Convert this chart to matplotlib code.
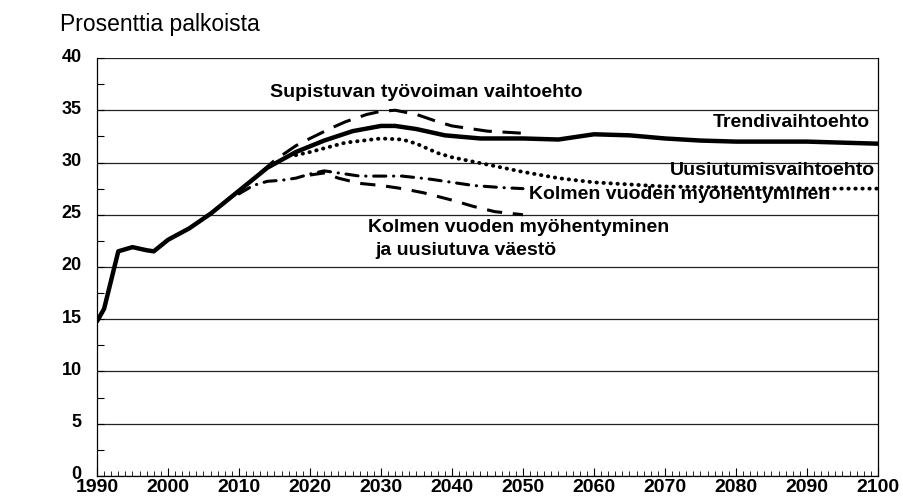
import numpy as np
import matplotlib
matplotlib.use("Agg")
import matplotlib.pyplot as plt
from matplotlib.ticker import MultipleLocator
from matplotlib.transforms import ScaledTranslation

plt.rcParams["font.family"] = ["Liberation Sans", "DejaVu Sans"]

# Trend scenario
trend_years = [1990, 1991, 1993, 1995, 1997, 1998, 2000, 2003, 2006, 2010, 2014,
               2018, 2022, 2026, 2030, 2032, 2035, 2039, 2044, 2050, 2055, 2060,
               2065, 2070, 2075, 2080, 2090, 2100]
trend_vals = [14.8, 16.0, 21.5, 21.9, 21.6, 21.5, 22.6, 23.7, 25.1, 27.3, 29.5,
              31.0, 32.1, 33.0, 33.5, 33.5, 33.2, 32.6, 32.3, 32.3, 32.2, 32.7,
              32.6, 32.3, 32.1, 32.0, 32.0, 31.8]

# Shrinking labour force scenario
sup_years = [2013, 2015, 2018, 2020, 2023, 2025, 2028, 2030, 2032, 2035, 2038,
             2040, 2045, 2050]
sup_vals = [29.0, 30.2, 31.6, 32.3, 33.3, 33.9, 34.6, 34.9, 35.0, 34.6, 33.9,
            33.5, 33.0, 32.8]

# Renewal scenario
uus_years = [2018, 2020, 2025, 2030, 2033, 2035, 2038, 2040, 2045, 2050, 2055,
             2060, 2065, 2070, 2080, 2090, 2100]
uus_vals = [30.7, 31.0, 31.9, 32.3, 32.2, 31.8, 30.9, 30.5, 29.8, 29.1, 28.5,
            28.1, 27.9, 27.7, 27.6, 27.5, 27.5]

# Three-year delay
kol_years = [2010, 2012, 2014, 2016, 2018, 2020, 2022, 2024, 2027, 2030, 2033,
             2037, 2040, 2043, 2047, 2050]
kol_vals = [27.0, 27.8, 28.2, 28.3, 28.5, 28.9, 29.2, 29.0, 28.7, 28.7, 28.7,
            28.4, 28.1, 27.8, 27.6, 27.5]

# Three-year delay and renewing population
kolu_years = [2020, 2022, 2024, 2027, 2030, 2033, 2036, 2040, 2043, 2046, 2050]
kolu_vals = [28.8, 29.0, 28.5, 28.0, 27.8, 27.5, 27.1, 26.4, 25.8, 25.3, 25.0]

fig = plt.figure(figsize=(9.04, 5.04), dpi=100)
ax = fig.add_axes([0.1073, 0.0556, 0.8639, 0.8293])

ax.plot(trend_years, trend_vals, color="black", lw=3.2, solid_capstyle="round")
ax.plot(sup_years, sup_vals, color="black", lw=2.2, linestyle=(0, (6, 3.5)))
ax.plot(uus_years, uus_vals, color="black", lw=2.8, linestyle=(0, (0.1, 1.7)),
        dash_capstyle="round")
ax.plot(kol_years, kol_vals, color="black", lw=2.2,
        linestyle=(0, (4, 2.5, 0.1, 2.5)), dash_capstyle="round")
ax.plot(kolu_years, kolu_vals, color="black", lw=2.2, linestyle=(0, (5, 3.5)))

ax.set_xlim(1990, 2100)
ax.set_ylim(0, 40)
ax.yaxis.set_major_locator(MultipleLocator(5))
ax.yaxis.set_minor_locator(MultipleLocator(2.5))
ax.xaxis.set_major_locator(MultipleLocator(10))
ax.xaxis.set_minor_locator(MultipleLocator(1))
ax.grid(axis="y", which="major", color="#222222", lw=0.9)
ax.set_axisbelow(True)

ax.spines["top"].set_visible(False)
for side in ["left", "right", "bottom"]:
    ax.spines[side].set_linewidth(0.9)

ax.tick_params(axis="y", which="both", direction="in", length=5, width=0.8,
               labelsize=13, pad=11)
ax.tick_params(axis="x", which="major", direction="in", length=6, width=0.8,
               labelsize=14, pad=2)
ax.tick_params(axis="x", which="minor", direction="in", length=3.5, width=0.6)
for lab in ax.get_yticklabels() + ax.get_xticklabels():
    lab.set_fontweight("bold")

fig.text(60 / 904, 1 - 25 / 504, "Prosenttia palkoista", fontsize=16.5,
         va="center", ha="left")

lab_kw = dict(fontsize=14, fontweight="bold", color="black")
ax.text(2014.4, 36.7, "Supistuvan työvoiman vaihtoehto", ha="left", va="center", **lab_kw)
ax.text(2098.9, 33.8, "Trendivaihtoehto", ha="right", va="center", **lab_kw)
ax.text(2099.6, 29.2, "Uusiutumisvaihtoehto", ha="right", va="center", **lab_kw)
ax.text(2050.8, 26.9, "Kolmen vuoden myöhentyminen", ha="left", va="center", **lab_kw)
ax.text(2028.2, 23.8, "Kolmen vuoden myöhentyminen", ha="left", va="center", **lab_kw)
ax.text(2029.2, 21.6, "ja uusiutuva väestö", ha="left", va="center", **lab_kw)

# y labels sit a little above their gridlines in the original
fig.canvas.draw()
shift = ScaledTranslation(0, 3 / 100, fig.dpi_scale_trans)
for t in ax.yaxis.get_major_ticks():
    t.label1.set_transform(t.label1.get_transform() + shift)

fig.savefig("out.png", dpi=100)
